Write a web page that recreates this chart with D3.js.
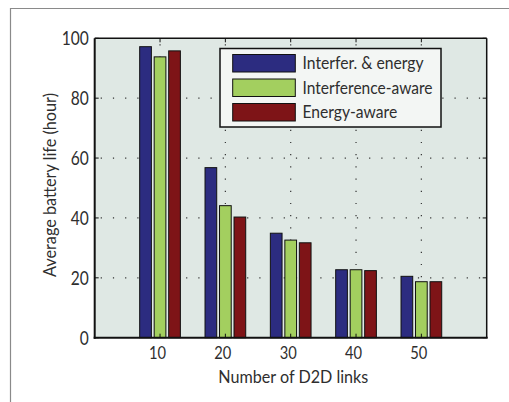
<!DOCTYPE html>
<html><head><meta charset="utf-8">
<script src="https://cdn.jsdelivr.net/npm/d3@7"></script>
<style>
body{margin:0;background:#fff;}
text{font-family:Lato,"Noto Sans",sans-serif;fill:#2e2e2e;}
</style></head>
<body><svg id="c" width="509" height="402"></svg>
<script>
const categories = [10, 20, 30, 40, 50];
const seriesNames = ["Interfer. & energy", "Interference-aware", "Energy-aware"];
const interferEnergy = [97.2, 56.8, 34.9, 22.7, 20.5];
const interferenceAware = [93.8, 44.1, 32.6, 22.7, 18.7];
const energyAware = [95.8, 40.3, 31.7, 22.4, 18.7];
const yTicks = [0, 20, 40, 60, 80, 100];
const colors = ["#2c2c80", "#a3cf5f", "#7e1417"];
const series = [interferEnergy, interferenceAware, energyAware];

const svg = d3.select("#c");
svg.append("path").attr("d","M10.5,402 V8.5 H509").attr("fill","none").attr("stroke","#8a8a8a").attr("stroke-width",1.2);

const L=94.7, R=486.7, T=38.3, B=337.7;
const x = d3.scaleLinear().domain([0,60]).range([L,R]);
const y = d3.scaleLinear().domain([0,100]).range([B,T]);

svg.append("rect").attr("x",L).attr("y",T).attr("width",R-L).attr("height",B-T).attr("fill","#dfe8e4");

const g = svg.append("g");
yTicks.filter(v=>v>0&&v<100).forEach(v=>{
  g.append("line").attr("x1",L).attr("x2",R).attr("y1",y(v)).attr("y2",y(v))
   .attr("stroke","#333").attr("stroke-width",1.2).attr("stroke-dasharray","1.2,11").attr("stroke-dashoffset",-6);
});
categories.forEach(c=>{
  g.append("line").attr("x1",x(c)).attr("x2",x(c)).attr("y1",T).attr("y2",B)
   .attr("stroke","#333").attr("stroke-width",1.2).attr("stroke-dasharray","1.2,11").attr("stroke-dashoffset",-6);
});

const bw = 11.7, stride = 14.5;
series.forEach((s,i)=>{
  svg.append("g").selectAll("rect").data(s).join("rect")
    .attr("x",(d,j)=>x(categories[j]) + (i-1)*stride - bw/2)
    .attr("y",d=>y(d))
    .attr("width",bw)
    .attr("height",d=>y(0)-y(d))
    .attr("fill",colors[i]).attr("stroke","#111").attr("stroke-width",1);
});

svg.append("line").attr("x1",L).attr("x2",R).attr("y1",T).attr("y2",T).attr("stroke","#111").attr("stroke-width",1.5);
svg.append("line").attr("x1",R).attr("x2",R).attr("y1",T).attr("y2",B).attr("stroke","#111").attr("stroke-width",1.5);
svg.append("line").attr("x1",L).attr("x2",L).attr("y1",T).attr("y2",B+1).attr("stroke","#111").attr("stroke-width",2);
svg.append("line").attr("x1",L-1).attr("x2",R+1).attr("y1",B).attr("y2",B).attr("stroke","#111").attr("stroke-width",2);

categories.forEach(c=>{
  svg.append("line").attr("x1",x(c)).attr("x2",x(c)).attr("y1",T).attr("y2",T+4).attr("stroke","#111");
  svg.append("line").attr("x1",x(c)).attr("x2",x(c)).attr("y1",B).attr("y2",B-4).attr("stroke","#111");
});
yTicks.forEach(v=>{
  svg.append("line").attr("x1",L).attr("x2",L+4).attr("y1",y(v)).attr("y2",y(v)).attr("stroke","#111");
  svg.append("line").attr("x1",R).attr("x2",R-4).attr("y1",y(v)).attr("y2",y(v)).attr("stroke","#111");
});

function condense(sel, target){
  sel.each(function(){
    const w = this.getComputedTextLength();
    const t = target || w*0.84;
    d3.select(this).attr("textLength",t).attr("lengthAdjust","spacingAndGlyphs");
  });
}

const fs = 17.5;
condense(svg.append("g").selectAll("text").data(yTicks).join("text")
  .attr("x",L-6).attr("y",d=>y(d)+6.8).attr("text-anchor","end").attr("font-size",18.5).text(d=>d));
condense(svg.append("g").selectAll("text").data(categories).join("text")
  .attr("x",d=>x(d)-2.5).attr("y",B+21.5).attr("text-anchor","middle").attr("font-size",17.5).text(d=>d));
condense(svg.append("text").attr("x",293.3).attr("y",382.5).attr("text-anchor","middle").attr("font-size",fs).text("Number of D2D links"), 150);
condense(svg.append("text").attr("transform","translate(56,185) rotate(-90)").attr("text-anchor","middle").attr("font-size",fs).text("Average battery life (hour)"), 184);

const lg = svg.append("g");
lg.append("rect").attr("x",220).attr("y",48.5).attr("width",221).attr("height",78.5)
  .attr("fill","#f3f6f4").attr("stroke","#111").attr("stroke-width",1.5);
const legW = [121, 130, 94.7];
seriesNames.forEach((n,i)=>{
  const yy = 54.5 + i*24.5;
  lg.append("rect").attr("x",232.7).attr("y",yy).attr("width",62.6).attr("height",17.5)
    .attr("fill",colors[i]).attr("stroke","#111").attr("stroke-width",1);
  condense(lg.append("text").attr("x",302.5).attr("y",yy+14.8).attr("font-size",18).text(n), legW[i]);
});
</script></body></html>
